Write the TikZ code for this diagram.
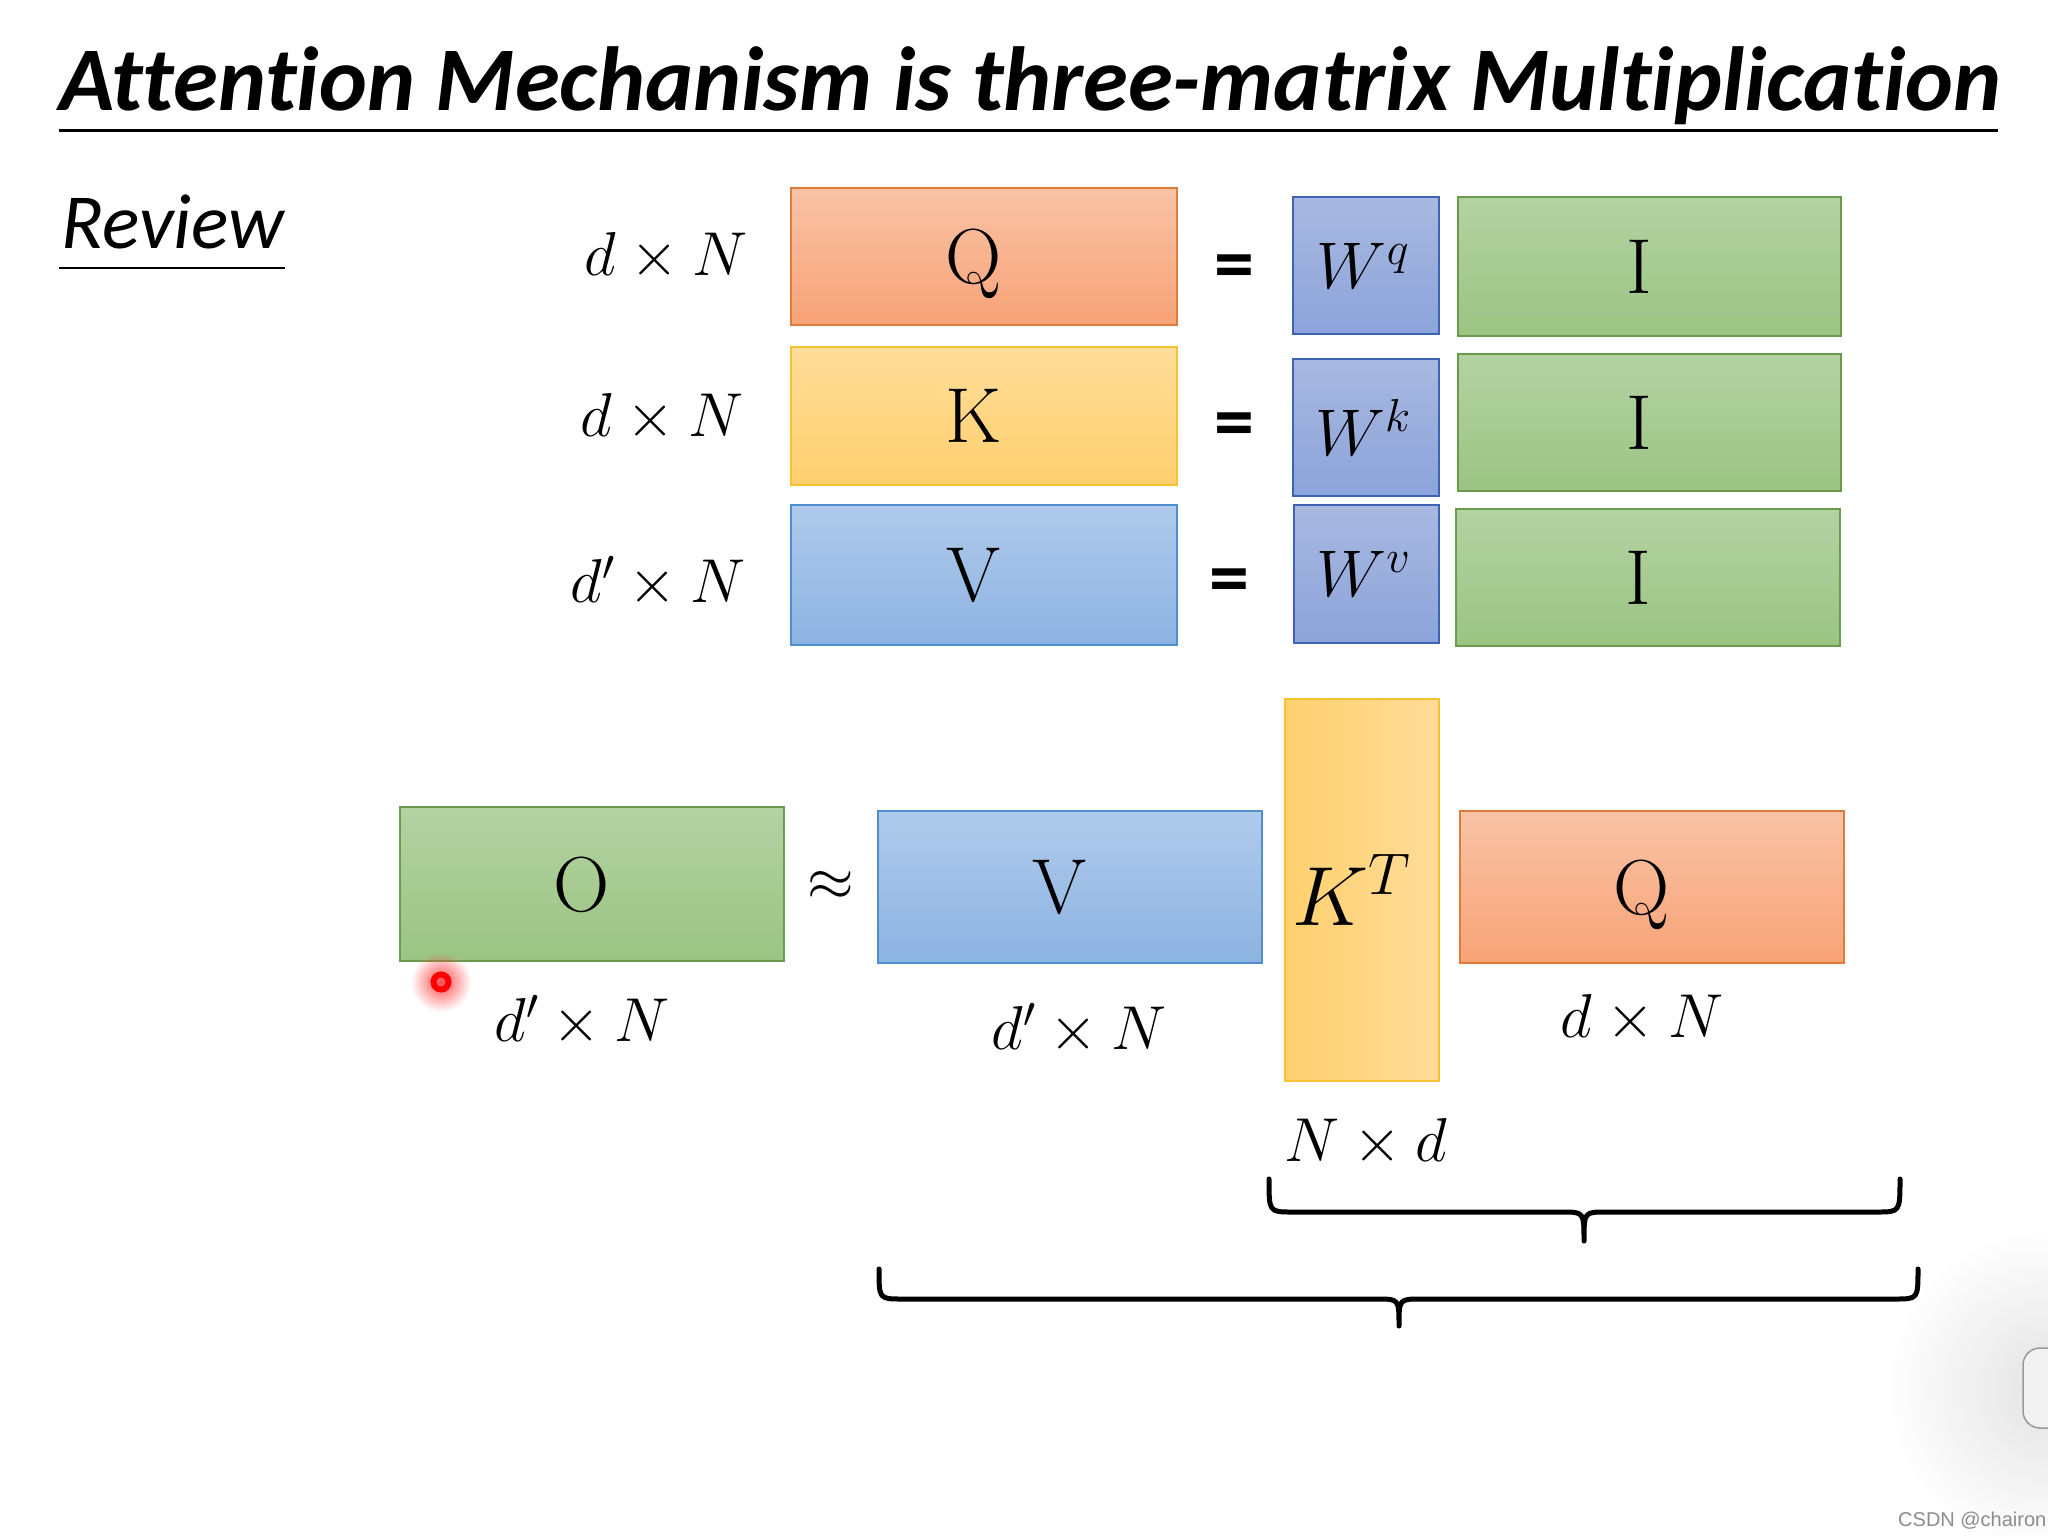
\RequirePackage{fix-cm}
\documentclass[tikz,border=0pt]{standalone}
\usepackage{fontspec}
\usetikzlibrary{fadings}
\newfontfamily\calib[Ligatures=NoCommon]{Carlito}
\newfontfamily\arialf{Liberation Sans}
\tikzfading[name=glowfade, inner color=transparent!0, outer color=transparent!100]
\definecolor{orT}{HTML}{F9C3A6}
\definecolor{orB}{HTML}{F7A377}
\definecolor{orD}{HTML}{E07B3C}
\definecolor{yeT}{HTML}{FFDC98}
\definecolor{yeB}{HTML}{FFD06E}
\definecolor{yeD}{HTML}{F5C232}
\definecolor{blT}{HTML}{AFCAEB}
\definecolor{blB}{HTML}{8DB3E2}
\definecolor{blD}{HTML}{4F8FCF}
\definecolor{wT}{HTML}{A8B8E0}
\definecolor{wB}{HTML}{8CA4DA}
\definecolor{wD}{HTML}{3E62B4}
\definecolor{grT}{HTML}{B4D2A2}
\definecolor{grB}{HTML}{9BC483}
\definecolor{grD}{HTML}{6A9B4C}
\tikzset{
  mat/.style={draw, line width=2pt, inner sep=0pt, text=black, text depth=0pt,
    font=\fontsize{78}{84}\selectfont, execute at end node={\hspace*{20pt}}},
  orbox/.style={mat, draw=orD, top color=orT, bottom color=orB},
  yebox/.style={mat, draw=yeD, top color=yeT, bottom color=yeB},
  ykbox/.style={mat, draw=yeD, left color=yeB, right color=yeT},
  blbox/.style={mat, draw=blD, top color=blT, bottom color=blB},
  wbox/.style={mat, draw=wD, top color=wT, bottom color=wB,
    font=\fontsize{66}{72}\selectfont, execute at begin node={\hspace*{14pt}},
    execute at end node={}},
  grbox/.style={mat, draw=grD, top color=grT, bottom color=grB},
  dimlab/.style={inner sep=0pt, font=\fontsize{62}{70}\selectfont},
  eqsign/.style={inner sep=0pt, font=\calib\bfseries\fontsize{80}{86}\selectfont},
  bracepath/.style={line width=5pt, line cap=round, line join=round},
}
\begin{document}
\begin{tikzpicture}[x=1pt,y=-1pt]
\useasboundingbox[fill=white] (0,0) rectangle (2048,1536);
% screen shadow and side tab
\fill[black!11, path fading=glowfade] (2048,1390) circle (160);
\draw[line width=1.5pt, draw=black!40, fill=black!5, rounded corners=17pt]
  (2023,1348) rectangle (2080,1428);
% title
\node[anchor=base west, inner sep=0pt, font=\calib\bfseries\itshape\fontsize{91}{96}\selectfont]
  (title) at (59,111) {Attention Mechanism is three-matrix Multiplication};
\draw[line width=3pt] (59,131) -- (1998,131);
\node[anchor=base west, inner sep=0pt, font=\calib\itshape\fontsize{78}{84}\selectfont]
  (review) at (61,248) {Review};
\draw[line width=2.5pt] (59,268) -- (285,268);
% row 1
\node[dimlab] (l1) at (666,257) {$d\times N$};
\node[orbox, minimum width=386pt, minimum height=137pt] (q1) at (984,256.5) {Q};
\node[eqsign] (e1) at (1234,273) {=};
\node[wbox, minimum width=146pt, minimum height=137pt] (wq) at (1366,265.5) {$W^q$};
\node[grbox, minimum width=383pt, minimum height=139pt] (i1) at (1649.5,266.5) {I};
% row 2
\node[dimlab] (l2) at (662,418) {$d\times N$};
\node[yebox, minimum width=386pt, minimum height=138pt] (k1) at (984,416) {K};
\node[eqsign] (e2) at (1234,431) {=};
\node[wbox, minimum width=146pt, minimum height=137pt] (wk) at (1366,427.5) {$W^k$};
\node[grbox, minimum width=383pt, minimum height=137pt] (i2) at (1649.5,422.5) {I};
% row 3
\node[dimlab] (l3) at (658,582) {$d'\times N$};
\node[blbox, minimum width=386pt, minimum height=140pt] (v1) at (984,575) {V};
\node[eqsign] (e3) at (1229,587) {=};
\node[wbox, minimum width=145pt, minimum height=138pt] (wv) at (1366.5,574) {$W^v$};
\node[grbox, minimum width=384pt, minimum height=137pt] (i3) at (1648,577.5) {I};
% bottom equation
\node[grbox, minimum width=384pt, minimum height=154pt] (o) at (592,884) {O};
\node[inner sep=0pt, font=\fontsize{60}{66}\selectfont] (ap) at (831,886) {$\approx$};
\node[blbox, minimum width=384pt, minimum height=152pt] (v2) at (1070,887) {V};
\node[ykbox, minimum width=154pt, minimum height=382pt, font=\fontsize{84}{90}\selectfont,
  execute at end node={}] (kt) at (1362,890) {$K^T$};
\node[orbox, minimum width=384pt, minimum height=152pt] (q2) at (1652,887) {Q};
\node[dimlab] (lo) at (582,1021) {$d'\times N$};
\node[dimlab] (lv) at (1079,1029) {$d'\times N$};
\node[dimlab] (lq) at (1642,1019) {$d\times N$};
\node[dimlab] (lk) at (1366,1143) {$N\times d$};
% braces
\draw[bracepath] (1269,1179) .. controls (1269,1212) .. (1292,1212) -- (1562,1212)
  .. controls (1584,1212) .. (1584,1241) .. controls (1584,1212) .. (1606,1212)
  -- (1877,1212) .. controls (1900,1212) .. (1900,1179);
\draw[bracepath] (879,1269) .. controls (879,1299) .. (902,1299) -- (1377,1299)
  .. controls (1399,1299) .. (1399,1326) .. controls (1399,1299) .. (1421,1299)
  -- (1895,1299) .. controls (1918,1299) .. (1918,1269);
% cursor mark
\fill[red!70, path fading=glowfade] (441,982) circle (30);
\draw[red, line width=6pt] (441,982) circle (7.5);
% watermark
\node[anchor=base west, inner sep=0pt, text=black!45, font=\arialf\fontsize{20}{24}\selectfont]
  (wm) at (1898,1526) {CSDN @chairon};
\end{tikzpicture}
\end{document}
